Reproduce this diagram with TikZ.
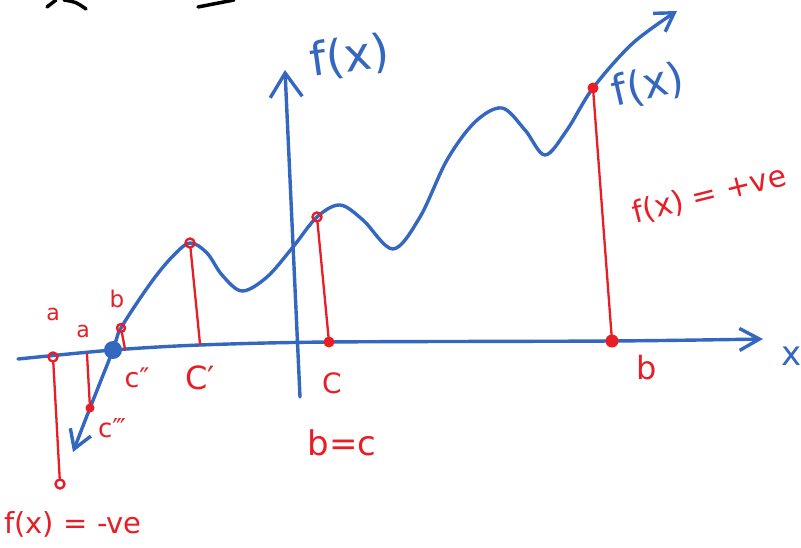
\documentclass[tikz,border=0pt]{standalone}
\usepackage{fontspec}
\setmainfont{DejaVu Sans}
\usetikzlibrary{arrows.meta}
\definecolor{penblue}{RGB}{52,103,192}
\definecolor{penred}{RGB}{232,30,38}
\newcommand\fsz[1]{\fontsize{#1pt}{#1pt}\selectfont}
\begin{document}
\begin{tikzpicture}[x=1pt,y=-1pt,
  blueline/.style={draw=penblue,line width=3.4pt,line cap=round,line join=round},
  redline/.style={draw=penred,line width=2.3pt,line cap=round},
  redring/.style={circle,draw=penred,line width=2.4pt,inner sep=0pt,minimum size=9pt},
  reddot/.style={circle,fill=penred,draw=penred,line width=1pt,inner sep=0pt,minimum size=10pt},
  redlabel/.style={text=penred,inner sep=0pt},
  bluelabel/.style={text=penblue,inner sep=0pt},
  inkstroke/.style={draw=black,line width=3.5pt,line cap=round}]
\fill[white] (0,0) rectangle (801,548);
\useasboundingbox (0,0) rectangle (801,548);

% cut-off strokes at the top
\draw[inkstroke] (47,7) -- (56,0);
\draw[inkstroke] (64,0) .. controls (76,2) .. (86,9);
\draw[inkstroke] (198,7) -- (234,0);

% key coordinates
\coordinate (tipL) at (73,452);
\coordinate (c3) at (90,408);
\coordinate (dot) at (113,350);
\coordinate (bpt) at (121,328);
\coordinate (pk1) at (190,243);
\coordinate (cpt) at (317,217);
\coordinate (fpt) at (593,88);
\coordinate (tipR) at (677,11);
\coordinate (xl) at (18,359);
\coordinate (cax) at (329,342);
\coordinate (bax) at (612,341);
\coordinate (xr) at (763,339);
\coordinate (yb) at (300,397);
\coordinate (yt) at (285,70);

% axes
\draw[blueline,-{Straight Barb[length=20pt,width=22pt]}] plot[smooth] coordinates {(xl) (dot) (200,345) (cax) (bax) (xr)};
\draw[blueline,-{Straight Barb[length=24pt,width=32pt]}] (yb) -- (yt);

% curve
\draw[blueline,{Straight Barb[length=18pt,width=22pt]}-{Straight Barb[length=18pt,width=22pt]}]
  plot[smooth,tension=0.55] coordinates {(tipL) (c3) (dot) (bpt) (150,284) (172,257) (pk1) (207,253) (222,275) (242,291) (267,277) (293,247) (cpt) (340,205) (363,220) (393,249) (420,217) (447,160) (475,122) (502,108) (525,130) (545,155) (567,130) (fpt) (633,43) (tipR)};

% red markers
\node[redring] (ra) at (53,357) {};
\node[redring] (rabot) at (60,484) {};
\node[reddot,minimum size=8pt] (rc3) at (c3) {};
\node[redring,minimum size=8pt] (rb) at (bpt) {};
\node[redring] (rpk) at (pk1) {};
\node[redring] (rc) at (cpt) {};
\node[reddot] (rcax) at (cax) {};
\node[reddot,minimum size=12pt] (rbax) at (bax) {};
\node[reddot] (rf) at (fpt) {};

\coordinate (ax2) at (87,354);
\coordinate (ax3) at (125,349);
\coordinate (pkax) at (200,344);
\draw[redline] (ra) -- (rabot);
\draw[redline] (ax2) -- (rc3);
\draw[redline] (rb) -- (ax3);
\draw[redline] (rpk) -- (pkax);
\draw[redline] (rc) -- (rcax);
\draw[redline] (rf) -- (rbax);

% big blue dot
\node[circle,fill=penblue,inner sep=0pt,minimum size=18pt] (bd) at (dot) {};

% red labels
\node[redlabel,font=\fsz{22}] (la1) at (53,314) {a};
\node[redlabel,font=\fsz{22}] (la2) at (83,331) {a};
\node[redlabel,font=\fsz{23}] (lb1) at (117,299) {b};
\node[redlabel,font=\fsz{27}] (lc2) at (137,378) {c″};
\node[redlabel,font=\fsz{32}] (lC1) at (200,378) {C′};
\node[redlabel,font=\fsz{26}] (lc3) at (112,428) {c‴};
\node[redlabel,font=\fsz{28}] (lC) at (332,383) {C};
\node[redlabel,font=\fsz{34}] (lbc) at (342,443) {b=c};
\node[redlabel,font=\fsz{32}] (lb2) at (647,368) {b};
\node[redlabel,font=\fsz{29}] (lneg) at (73,524) {f(x) = -ve};
\node[redlabel,font=\fsz{30},anchor=west,rotate=14] (lpos) at (633,214) {f(x) = +ve};

% blue labels
\node[bluelabel,font=\fsz{46},rotate=8] (lfy) at (350,57) {f(x)};
\node[bluelabel,font=\fsz{42},rotate=13] (lf2) at (648,86) {f(x)};
\node[bluelabel,font=\fsz{34}] (lx) at (792,356) {x};
\end{tikzpicture}
\end{document}
